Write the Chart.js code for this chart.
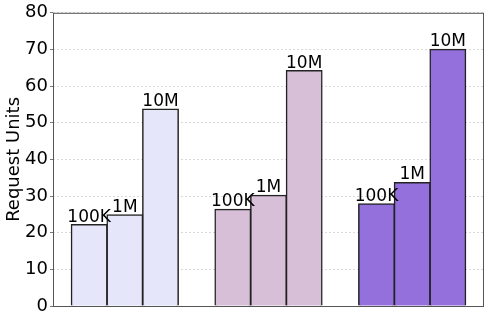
<!DOCTYPE html>
<html lang="en">
  <head>
    <meta charset="utf-8" />
    <script src="https://cdn.jsdelivr.net/npm/chart.js"></script>
    <title>Request Units</title>
    <style>
      body {
        margin: 0;
        padding: 0;
        background: white;
      }
      #wrap {
        width: 489px;
        height: 323px;
      }
    </style>
  </head>
  <body>
    <div id="wrap"><canvas id="myChart" width="489" height="323"></canvas></div>

    <script>
      // data
      var groups = ["A", "B", "C"];
      var sizes = ["100K", "1M", "10M"];
      var vals100K = [22.2, 26.4, 27.9];
      var vals1M = [24.9, 30.2, 33.7];
      var vals10M = [53.7, 64.2, 70.0];
      var groupColors = ["#e6e6fa", "#d8bfd8", "#9370db"];
      var yTicks = [0, 10, 20, 30, 40, 50, 60, 70, 80];

      var font = "'DejaVu Sans', sans-serif";

      // text above each bar + frame round the plot
      var barLabels = {
        id: "barLabels",
        afterDatasetsDraw: function (chart) {
          var ctx = chart.ctx;
          ctx.save();
          ctx.font = "17px " + font;
          ctx.fillStyle = "#000";
          ctx.textAlign = "center";
          ctx.textBaseline = "alphabetic";
          chart.data.datasets.forEach(function (ds, i) {
            chart.getDatasetMeta(i).data.forEach(function (bar) {
              ctx.fillText(ds.label, bar.x, bar.y - 3);
            });
          });
          var a = chart.chartArea;
          ctx.strokeStyle = "#555";
          ctx.lineWidth = 1;
          ctx.strokeRect(a.left + 0.5, a.top + 0.5, a.right - a.left - 1, a.bottom - a.top);
          ctx.restore();
        }
      };

      var dados = {
        labels: groups,
        datasets: [
          { label: sizes[0], data: vals100K },
          { label: sizes[1], data: vals1M },
          { label: sizes[2], data: vals10M }
        ].map(function (d) {
          d.backgroundColor = groupColors;
          d.borderColor = "#222";
          d.borderWidth = 1.5;
          d.inflateAmount = 0.6;
          d.categoryPercentage = 0.745;
          d.barPercentage = 1;
          return d;
        })
      };

      var config = {
        type: "bar",
        data: dados,
        plugins: [barLabels],
        options: {
          responsive: false,
          animation: false,
          layout: { padding: { top: 12, right: 5, bottom: 17, left: 0 } },
          plugins: {
            legend: { display: false },
            tooltip: { enabled: false }
          },
          scales: {
            x: { display: false },
            y: {
              min: 0,
              max: 80,
              afterBuildTicks: function (axis) {
                axis.ticks = yTicks.map(function (v) { return { value: v }; });
              },
              afterFit: function (axis) {
                axis.width = 53;
              },
              border: { display: false, dash: [2, 2] },
              grid: {
                color: "#d0d0d0",
                lineWidth: 0.8,
                tickColor: "#555",
                tickBorderDash: [],
                tickLength: 3
              },
              ticks: {
                color: "#000",
                padding: 2,
                font: { family: font, size: 18 }
              },
              title: {
                display: true,
                text: "Request Units",
                color: "#000",
                padding: { top: 4, bottom: 0 },
                font: { family: font, size: 18 }
              }
            }
          }
        }
      };

      var ctx = document.getElementById("myChart").getContext("2d");
      var myChart = new Chart(ctx, config);
    </script>
  </body>
</html>
